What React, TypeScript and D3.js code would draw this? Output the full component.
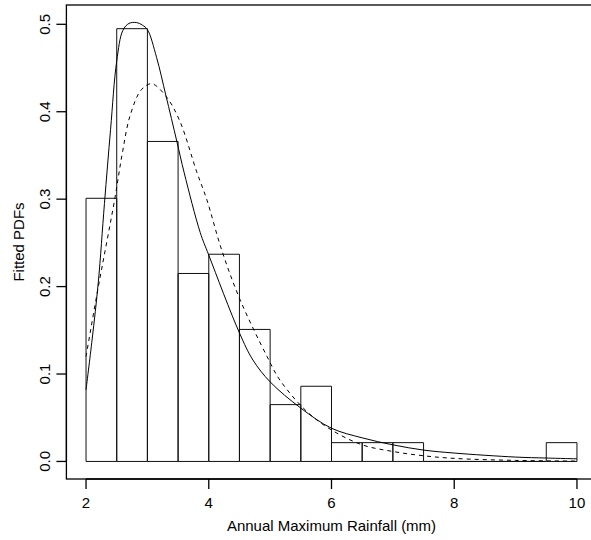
import React from "react";
import * as d3 from "d3";

const W = 591;
const H = 540;
const BOX = { left: 66.4, right: 596.6, top: 5, bottom: 479 };
const FONT = "'Liberation Sans', Arial, Helvetica, sans-serif";

// histogram: bin starts (width 0.5) and densities
const binStarts = [2, 2.5, 3, 3.5, 4, 4.5, 5, 5.5, 6, 6.5, 7, 7.5, 8, 8.5, 9, 9.5];
const binWidth = 0.5;
const densities = [0.301, 0.495, 0.366, 0.215, 0.237, 0.151, 0.065, 0.086, 0.0215, 0.0215, 0.0215, 0, 0, 0, 0, 0.0215];

// fitted PDF, solid line (x, density)
const solidX = [2.0, 2.1, 2.2, 2.3, 2.4, 2.5, 2.6, 2.7, 2.82, 2.92, 3.0, 3.15, 3.3, 3.48, 3.6, 3.86, 4.0, 4.5, 4.72, 5.0, 5.5, 6.0, 6.5, 7.0, 7.5, 8.0, 9.0, 9.5, 10.0];
const solidY = [0.082, 0.14, 0.205, 0.295, 0.38, 0.458, 0.493, 0.501, 0.502, 0.499, 0.494, 0.462, 0.419, 0.366, 0.33, 0.262, 0.236, 0.147, 0.116, 0.091, 0.061, 0.038, 0.027, 0.019, 0.013, 0.0096, 0.005, 0.0039, 0.003];

// fitted PDF, dashed line
const dashedX = [2.0, 2.18, 2.47, 2.59, 2.72, 2.9, 3.07, 3.31, 3.53, 3.8, 3.97, 4.21, 4.51, 4.95, 5.16, 5.6, 6.0, 6.5, 7.0, 7.5, 8.0, 9.0, 10.0];
const dashedY = [0.12, 0.192, 0.301, 0.352, 0.396, 0.425, 0.432, 0.417, 0.389, 0.332, 0.299, 0.242, 0.185, 0.12, 0.093, 0.057, 0.036, 0.019, 0.0114, 0.0065, 0.0035, 0.0012, 0.0004];

const xTicks = [2, 4, 6, 8, 10];
const yTicks = [0, 0.1, 0.2, 0.3, 0.4, 0.5];

export default function App() {
  // R-style 4% padding around data range
  const xMin = 2, xMax = 10;
  const xPad = (xMax - xMin) * 0.04;
  const x = d3.scaleLinear().domain([xMin - xPad, xMax + xPad]).range([BOX.left, BOX.right]);

  const yMax = d3.max([...solidY, ...dashedY, ...densities]) as number;
  const yPad = yMax * 0.04;
  const y = d3.scaleLinear().domain([-yPad, yMax + yPad]).range([BOX.bottom, BOX.top]);

  const line = d3
    .line<[number, number]>()
    .x((d) => x(d[0]))
    .y((d) => y(d[1]))
    .curve(d3.curveCatmullRom.alpha(0.5));

  const solidPts = solidX.map((v, i) => [v, solidY[i]] as [number, number]);
  const dashedPts = dashedX.map((v, i) => [v, dashedY[i]] as [number, number]);

  return (
    <svg
      width={W}
      height={H}
      style={{ position: "absolute", left: 0, top: 0, background: "#fff" }}
      fontFamily={FONT}
    >
      {/* histogram */}
      {binStarts.map((b, i) => {
        const x0 = x(b);
        const x1 = x(b + binWidth);
        const y0 = y(0);
        const y1 = y(densities[i]);
        return (
          <path
            key={i}
            d={`M${x0},${y0}V${y1}H${x1}V${y0}Z`}
            fill="none"
            stroke="#111"
            strokeWidth={1}
          />
        );
      })}

      {/* fitted curves */}
      <path d={line(solidPts) || ""} fill="none" stroke="#000" strokeWidth={1} />
      <path d={line(dashedPts) || ""} fill="none" stroke="#000" strokeWidth={1} strokeDasharray="4,4" />

      {/* box */}
      <rect
        x={BOX.left}
        y={BOX.top}
        width={BOX.right - BOX.left}
        height={BOX.bottom - BOX.top}
        fill="none"
        stroke="#000"
        strokeWidth={1.3}
      />

      {/* x axis */}
      <line x1={x(xTicks[0])} x2={x(xTicks[xTicks.length - 1])} y1={BOX.bottom} y2={BOX.bottom} stroke="#000" strokeWidth={1.3} />
      {xTicks.map((t) => (
        <g key={t}>
          <line x1={x(t)} x2={x(t)} y1={BOX.bottom} y2={BOX.bottom + 10} stroke="#000" strokeWidth={1.3} />
          <text x={x(t)} y={508} textAnchor="middle" fontSize={15} fill="#000">
            {t}
          </text>
        </g>
      ))}
      <text x={(BOX.left + BOX.right) / 2} y={531} textAnchor="middle" fontSize={15} fill="#000">
        Annual Maximum Rainfall (mm)
      </text>

      {/* y axis */}
      <line x1={BOX.left} x2={BOX.left} y1={y(yTicks[0])} y2={y(yTicks[yTicks.length - 1])} stroke="#000" strokeWidth={1.3} />
      {yTicks.map((t) => (
        <g key={t}>
          <line x1={BOX.left - 10} x2={BOX.left} y1={y(t)} y2={y(t)} stroke="#000" strokeWidth={1.3} />
          <text
            transform={`translate(50,${y(t)}) rotate(-90)`}
            textAnchor="middle"
            fontSize={15}
            fill="#000"
          >
            {t.toFixed(1)}
          </text>
        </g>
      ))}
      <text
        transform={`translate(24,${(BOX.top + BOX.bottom) / 2}) rotate(-90)`}
        textAnchor="middle"
        fontSize={15}
        fill="#000"
      >
        Fitted PDFs
      </text>
    </svg>
  );
}
